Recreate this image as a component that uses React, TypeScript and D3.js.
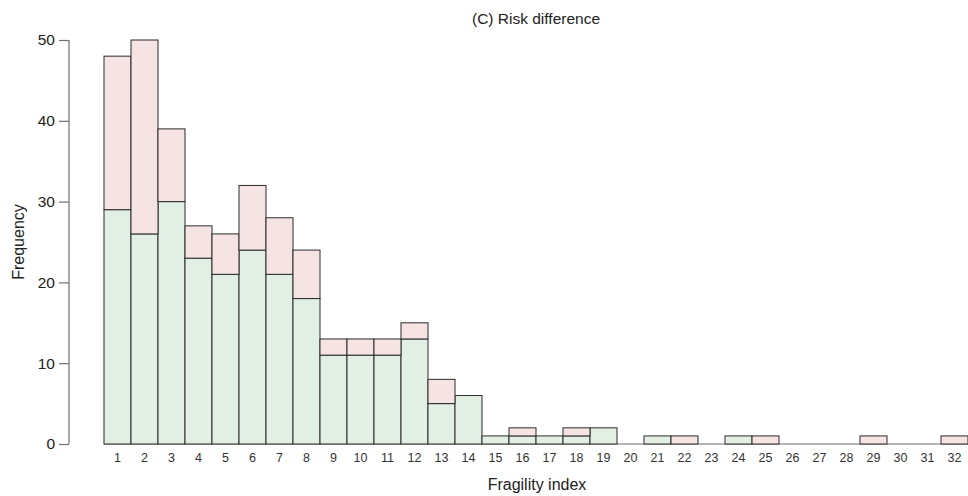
import React, { useRef, useEffect } from "react";
import * as d3 from "d3";

// fragility index bins 1..32
const fragilityIndex = d3.range(1, 33);

// lower (green) part of each stacked bar
const greenCounts = [
  29, 26, 30, 23, 21, 24, 21, 18, 11, 11, 11, 13, 5, 6, 1, 1,
  1, 1, 2, 0, 1, 0, 0, 1, 0, 0, 0, 0, 0, 0, 0, 0,
];

// upper (pink) part of each stacked bar
const pinkCounts = [
  19, 24, 9, 4, 5, 8, 7, 6, 2, 2, 2, 2, 3, 0, 0, 1,
  0, 1, 0, 0, 0, 1, 0, 0, 1, 0, 0, 0, 1, 0, 0, 1,
];

const yTicks = [0, 10, 20, 30, 40, 50];

function RiskDifferenceHistogram() {
  const svgRef = useRef<SVGSVGElement | null>(null);

  useEffect(() => {
    const width = 968;
    const height = 496;
    const margin = { top: 40, right: 0, bottom: 52, left: 104 };
    const font = "'Liberation Sans', Arial, Helvetica, sans-serif";

    const svg = d3.select(svgRef.current)
      .attr("width", width)
      .attr("height", height);

    svg.selectAll("*").remove();

    const x = d3.scaleBand<number>()
      .domain(fragilityIndex)
      .range([margin.left, width - margin.right])
      .padding(0);

    const y = d3.scaleLinear()
      .domain([0, 50])
      .range([height - margin.bottom, margin.top]);

    const rows = fragilityIndex.map((k, i) => ({
      k,
      green: greenCounts[i],
      pink: pinkCounts[i],
    }));

    // baseline under the bars
    svg.append("line")
      .attr("x1", x(1)!)
      .attr("x2", width)
      .attr("y1", y(0))
      .attr("y2", y(0))
      .attr("stroke", "#6e6e6e")
      .attr("stroke-width", 1.2);

    // BARS (green first, pink stacked on top)
    const bars = svg.append("g");

    bars.selectAll("rect.green")
      .data(rows.filter(d => d.green > 0))
      .enter()
      .append("rect")
      .attr("class", "green")
      .attr("x", d => x(d.k)!)
      .attr("y", d => y(d.green))
      .attr("width", x.bandwidth())
      .attr("height", d => y(0) - y(d.green))
      .attr("fill", "#e2efe4")
      .attr("stroke", "#2b2b2b")
      .attr("stroke-width", 1);

    bars.selectAll("rect.pink")
      .data(rows.filter(d => d.pink > 0))
      .enter()
      .append("rect")
      .attr("class", "pink")
      .attr("x", d => x(d.k)!)
      .attr("y", d => y(d.green + d.pink))
      .attr("width", x.bandwidth())
      .attr("height", d => y(d.green) - y(d.green + d.pink))
      .attr("fill", "#f6e4e4")
      .attr("stroke", "#2b2b2b")
      .attr("stroke-width", 1);

    // Y AXIS
    const yAxis = svg.append("g")
      .attr("transform", "translate(69, 0)")
      .call(d3.axisLeft(y).tickValues(yTicks).tickSize(10).tickPadding(4));
    yAxis.select(".domain")
      .attr("stroke", "#6e6e6e")
      .attr("stroke-width", 1.2)
      .attr("d", `M0,${y(50)}V${y(0)}`);
    yAxis.selectAll(".tick line").attr("stroke", "#6e6e6e").attr("stroke-width", 1.2);
    yAxis.selectAll(".tick text")
      .attr("fill", "#222")
      .attr("font-size", 15.5)
      .attr("font-family", font);

    // X TICK LABELS
    svg.append("g")
      .selectAll("text")
      .data(fragilityIndex)
      .enter()
      .append("text")
      .attr("x", d => x(d)! + x.bandwidth() / 2)
      .attr("y", 462)
      .attr("text-anchor", "middle")
      .attr("font-size", 12.5)
      .attr("font-family", font)
      .attr("fill", "#333")
      .text(d => d);

    // AXIS LABELS
    svg.append("text")
      .attr("x", 537)
      .attr("y", 490)
      .attr("text-anchor", "middle")
      .attr("font-size", 16)
      .attr("font-family", font)
      .attr("fill", "#222")
      .text("Fragility index");

    svg.append("text")
      .attr("transform", "rotate(-90)")
      .attr("x", -242)
      .attr("y", 24)
      .attr("text-anchor", "middle")
      .attr("font-size", 16)
      .attr("font-family", font)
      .attr("fill", "#222")
      .text("Frequency");

    // TITLE
    svg.append("text")
      .attr("x", 536)
      .attr("y", 24)
      .attr("text-anchor", "middle")
      .attr("font-size", 15.5)
      .attr("font-family", font)
      .attr("fill", "#222")
      .text("(C) Risk difference");
  }, []);

  return (
    <svg
      ref={svgRef}
      style={{ position: "absolute", left: 0, top: 0, display: "block", background: "#fff" }}
    ></svg>
  );
}

export default function App() {
  return <RiskDifferenceHistogram />;
}
